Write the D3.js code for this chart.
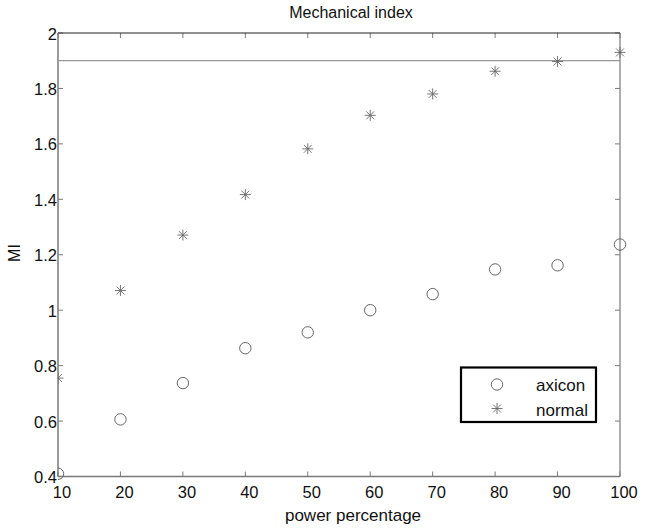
<!DOCTYPE html>
<html><head><meta charset="utf-8">
<script src="https://cdn.jsdelivr.net/npm/d3@7"></script>
<style>body{margin:0;background:#fff}svg{display:block}text{font-family:"Liberation Sans",Arial,sans-serif;fill:#111}</style>
</head><body>
<script>
const powers = [10,20,30,40,50,60,70,80,90,100];
const axicon = [0.41,0.606,0.737,0.863,0.92,1.0,1.058,1.147,1.162,1.237];
const normal = [0.755,1.071,1.271,1.417,1.582,1.703,1.78,1.862,1.897,1.93];
const threshold = 1.9;
const xTicks = [10,20,30,40,50,60,70,80,90,100];
const yTicks = [0.4,0.6,0.8,1,1.2,1.4,1.6,1.8,2];
const seriesNames = ["axicon","normal"];

const W=645,H=528, L=58,R=620,T=33,B=476.5;
const svg=d3.select("body").append("svg").attr("width",W).attr("height",H);
const x=d3.scaleLinear().domain([10,100]).range([L,R]);
const y=d3.scaleLinear().domain([0.4,2]).range([B,T]);
const gray="#7a7a7a";

svg.append("clipPath").attr("id","clip").append("rect").attr("x",L).attr("y",T-10).attr("width",R-L+12).attr("height",B-T+20);

const tl=5;
xTicks.forEach(v=>{
  svg.append("line").attr("x1",x(v)).attr("x2",x(v)).attr("y1",B).attr("y2",B-tl).attr("stroke",gray);
  svg.append("line").attr("x1",x(v)).attr("x2",x(v)).attr("y1",T).attr("y2",T+tl).attr("stroke",gray);
  svg.append("text").attr("x",x(v)+4).attr("y",B+21).attr("text-anchor","middle").attr("font-size",16.5).text(v);
});
yTicks.forEach(v=>{
  svg.append("line").attr("x1",L).attr("x2",L+tl).attr("y1",y(v)).attr("y2",y(v)).attr("stroke",gray);
  svg.append("line").attr("x1",R).attr("x2",R-tl).attr("y1",y(v)).attr("y2",y(v)).attr("stroke",gray);
  svg.append("text").attr("x",L-1).attr("y",y(v)+6.5).attr("text-anchor","end").attr("font-size",16.5).text(d3.format("~g")(v));
});

svg.append("line").attr("x1",L).attr("x2",R).attr("y1",T).attr("y2",T).attr("stroke","#222").attr("stroke-width",1.2);
svg.append("line").attr("x1",L).attr("x2",L).attr("y1",T).attr("y2",B).attr("stroke",gray).attr("stroke-width",1.5);
svg.append("line").attr("x1",L).attr("x2",R).attr("y1",B).attr("y2",B).attr("stroke",gray).attr("stroke-width",1.5);
svg.append("line").attr("x1",R).attr("x2",R).attr("y1",T).attr("y2",B).attr("stroke",gray).attr("stroke-width",1.2);

svg.append("line").attr("x1",L).attr("x2",R).attr("y1",y(threshold)).attr("y2",y(threshold)).attr("stroke","#999").attr("stroke-width",1.2);

const g=svg.append("g").attr("clip-path","url(#clip)");
function star(sel,cx,cy){
  const s=5.5, d=3.9;
  const p=`M${cx-s},${cy}H${cx+s}M${cx},${cy-s}V${cy+s}M${cx-d},${cy-d}L${cx+d},${cy+d}M${cx-d},${cy+d}L${cx+d},${cy-d}`;
  sel.append("path").attr("d",p).attr("stroke","#666").attr("stroke-width",0.9).attr("fill","none");
}
powers.forEach((p,i)=>{
  g.append("circle").attr("cx",x(p)).attr("cy",y(axicon[i])).attr("r",5.7).attr("fill","none").attr("stroke","#666").attr("stroke-width",1);
  star(g,x(p),y(normal[i]));
});

svg.append("rect").attr("x",461).attr("y",367.5).attr("width",135).attr("height",54.5).attr("fill","#fff").attr("stroke","#000").attr("stroke-width",2.2);
svg.append("circle").attr("cx",497).attr("cy",384.5).attr("r",5.7).attr("fill","none").attr("stroke","#666");
star(svg,497,408.5);
svg.append("text").attr("x",536).attr("y",391).attr("font-size",17).text(seriesNames[0]);
svg.append("text").attr("x",536).attr("y",416).attr("font-size",17).text(seriesNames[1]);

svg.append("text").attr("x",351).attr("y",18).attr("text-anchor","middle").attr("font-size",16).text("Mechanical index");
svg.append("text").attr("x",353).attr("y",521).attr("text-anchor","middle").attr("font-size",17).text("power percentage");
svg.append("text").attr("transform","translate(20,253) rotate(-90)").attr("text-anchor","middle").attr("font-size",16).text("MI");
</script>
</body></html>
